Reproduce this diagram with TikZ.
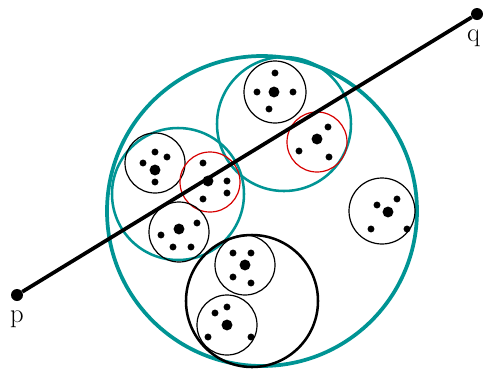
\documentclass[tikz,border=0pt]{standalone}
\usepackage{tikz}
\usetikzlibrary{positioning}
\definecolor{ballteal}{RGB}{0,148,148}
\definecolor{ballred}{RGB}{215,0,0}
\tikzset{
  tealball/.style={
    circle, inner sep=0pt, draw=ballteal, line width=#1
  },
  leafball/.style={
    circle, inner sep=0pt, draw=#1, line width=0.9pt
  },
  bigdot/.style={fill=black},
  endpt/.style={
    circle, inner sep=0pt, fill=black, minimum size=9pt
  },
  segline/.style={line width=2.8pt, black},
  ptlabel/.style={font=\fontsize{20}{24}\selectfont, inner sep=0pt},
}

\begin{document}
\begin{tikzpicture}[x=0.75pt,y=-0.75pt]
  \useasboundingbox (0,0) rectangle (483,369);

  % ball tree: root and inner balls
  \node[tealball=2.8pt, minimum size=232.5pt](root) at (262,211){};
  \node[tealball=1.9pt, minimum size=100.5pt](upper) at (284,124){};
  \node[tealball=1.9pt, minimum size=99pt](left) at (178,194){};
  \node[circle, inner sep=0pt, draw=black, line width=1.9pt,
        minimum size=99pt](lower) at (252,301){};

  % leaf balls
  \node[leafball=black,   minimum size=46.5pt](la) at (275,92){};
  \node[leafball=ballred, minimum size=45pt](lb) at (317,142){};
  \node[leafball=black,   minimum size=45pt](lc) at (155,163){};
  \node[leafball=ballred, minimum size=45pt](ld) at (210,182){};
  \node[leafball=black,   minimum size=45pt](le) at (179,232){};
  \node[leafball=black,   minimum size=49.5pt](lf) at (382,211){};
  \node[leafball=black,   minimum size=45pt](lg) at (245,265){};
  \node[leafball=black,   minimum size=45pt](lh) at (227,325){};

  % centres
  \foreach \x/\y in {274/92, 317/139, 155/170, 208/181,
                     179/229, 388/212, 245/265, 227/325}
    \fill[bigdot] (\x,\y) circle[radius=4.1pt];

  % points
  \foreach \x/\y in {275/73, 257/92, 293/92, 269/109,
                     328/127, 299/151, 329/157,
                     155/152, 167/157, 143/163, 155/182,
                     203/163, 227/181, 227/193, 203/199,
                     197/223, 161/235, 173/247, 191/247,
                     377/205, 397/199, 371/229, 407/229,
                     233/253, 251/253, 233/277, 251/283,
                     227/307, 215/313, 208/337, 251/337}
    \fill[bigdot] (\x,\y) circle[radius=2.6pt];

  % query segment
  \node[endpt](p) at (17,295){};
  \node[endpt](q) at (477,14){};
  \draw[segline](p)--(q);
  \node[ptlabel, below=7pt of p](plabel){p};
  \node[ptlabel, below=7pt of q, xshift=-2.5pt](qlabel){q};
\end{tikzpicture}
\end{document}
